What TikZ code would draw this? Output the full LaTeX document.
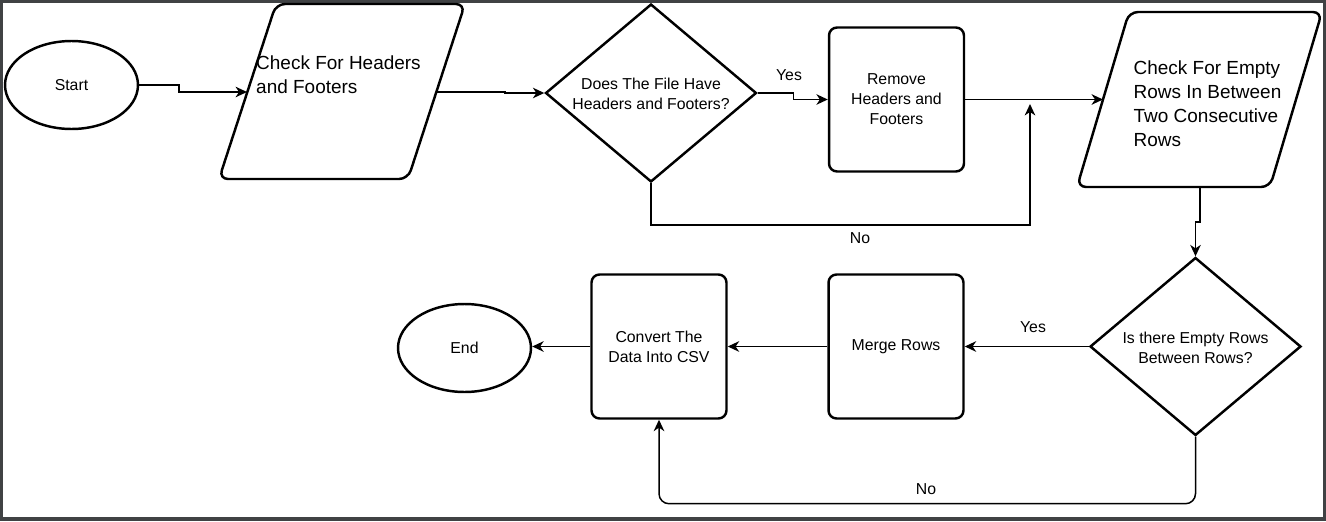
\documentclass[tikz,border=0pt]{standalone}
\usepackage{fontspec}
\setmainfont{Liberation Sans}
\usetikzlibrary{shapes.geometric, arrows.meta}

\definecolor{framegray}{RGB}{64,66,68}

\tikzset{
  smalltxt/.style={font=\fontsize{9}{11.4}\selectfont, align=center},
  bigtxt/.style={font=\fontsize{10.8}{13.6}\selectfont, align=left},
  shapeline/.style={draw, line width=1.4pt},
  terminal/.style={shapeline, smalltxt, ellipse, minimum width=2.66cm, minimum height=1.76cm, inner sep=0pt},
  procbox/.style={shapeline, smalltxt, rounded corners=0.16cm, minimum width=2.7cm, minimum height=2.88cm, inner sep=0pt},
  decision/.style={shapeline, diamond, minimum width=4.22cm, minimum height=3.56cm, inner sep=0pt},
  iobox/.style={shapeline, rounded corners=0.18cm},
  conn/.style={draw, line width=0.85pt, -{Stealth[length=6.5pt, width=6pt, inset=2pt]}},
}

\begin{document}
\begin{tikzpicture}
    [x=0.02cm, y=-0.02cm]

    % frame
    \fill [framegray] (0, 0) rectangle (1326, 521);
    \fill [white] (3, 3) rectangle (1323, 517);

    % top row
    \node [terminal] at (71.5, 85) (start) {Start};

    \draw [iobox] (276, 4) -- (465, 4) -- (408, 179) -- (219, 179) -- cycle;
    \node [bigtxt] at (338.5, 75) (hdrchk) {Check For Headers\\and Footers};
    \coordinate (hdrchkin) at (247, 92);
    \coordinate (hdrchkout) at (436, 92);

    \node [decision] at (651, 93) (hdrq) {};
    \node [smalltxt] at (651, 94) (hdrqtxt) {Does The File Have\\Headers and Footers?};
    \node [procbox] at (896.5, 99.5) (hdrrm) {Remove\\Headers and\\Footers};

    \draw [iobox] (1129, 12) -- (1322, 12) -- (1270, 187) -- (1077, 187) -- cycle;
    \node [bigtxt] at (1207.5, 103.5) (rowchk) {Check For Empty\\Rows In Between\\Two Consecutive\\Rows};
    \coordinate (rowchkin) at (1103, 99.5);
    \coordinate (rowchkout) at (1200, 187);

    % bottom row
    \node [decision] at (1195.5, 346.5) (rowq) {};
    \node [smalltxt] at (1195.5, 348) (rowqtxt) {Is there Empty Rows\\Between Rows?};
    \node [procbox] at (896, 346.5) (merge) {Merge Rows};
    \node [procbox] at (659, 346.5) (tocsv) {Convert The\\Data Into CSV};
    \node [terminal] at (464.5, 348) (end) {End};

    % labels
    \node [smalltxt] at (789, 75) (yes1) {Yes};
    \node [smalltxt] at (860, 238) (no1) {No};
    \node [smalltxt] at (1033, 327) (yes2) {Yes};
    \node [smalltxt] at (926, 489) (no2) {No};

    \coordinate (nomerge) at (1030, 104);

    \draw [conn] (start.east) -- ++(40, 0) |- (hdrchkin);
    \draw [conn] (hdrchkout) -- ++(69, 0) |- (hdrq.west);
    \draw [conn] (hdrq.east) -- ++(36, 0) |- (hdrrm.west);
    \draw [conn] (hdrrm.east) -- (rowchkin);
    \draw [conn] (hdrq.south) -- ++(0, 42) -| (nomerge);

    \draw [conn] (rowchkout) -- ++(0, 35) -| (rowq.north);
    \draw [conn] (rowq) -- (merge);
    \draw [conn] (merge) -- (tocsv);
    \draw [conn] (tocsv.west) -- (tocsv.west -| end.east);
    \draw [conn, rounded corners=0.2cm] (rowq.south) -- ++(0, 67) -| (tocsv.south);

  \end{tikzpicture}
\end{document}
